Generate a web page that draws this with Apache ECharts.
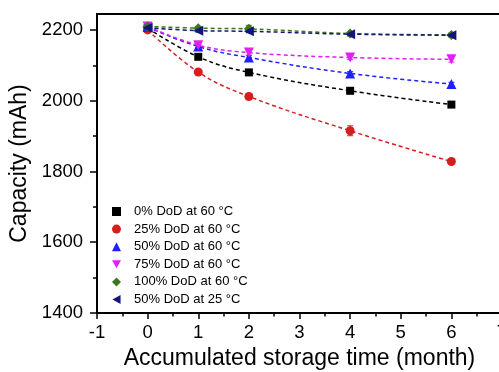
<!DOCTYPE html>
<html>
<head>
<meta charset="utf-8">
<script src="https://cdn.jsdelivr.net/npm/echarts@6/dist/echarts.min.js"></script>
<style>
  html, body { margin: 0; padding: 0; background: #fff; }
  #chart { width: 499px; height: 372px; }
</style>
</head>
<body>
<div id="chart"></div>
<script>
// storage time (month)
const months = [0, 1, 2, 4, 6]

// capacity (mAh) per condition
const dod0At60 = [2205, 2124, 2080, 2028, 1989]
const dod25At60 = [2200, 2081, 2012, 1915, 1828]
const dod50At60 = [2208, 2153, 2122, 2077, 2047]
const dod75At60 = [2210, 2157, 2136, 2122, 2117]
const dod100At60 = [2210, 2205, 2203, 2190, 2186]
const dod50At25 = [2206, 2198, 2196, 2188, 2185]

// error bars (mAh)
const err0At60 = [5, 5, 5, 8, 4]
const err25At60 = [5, 4, 6, 14, 4]
const err50At60 = [5, 5, 5, 5, 5]
const err75At60 = [10, 7, 7, 6, 8]
const err100At60 = [6, 5, 10, 5, 5]
const err50At25 = [5, 4, 4, 5, 5]

const yTicks = [1400, 1600, 1800, 2000, 2200]
const yMinorTicks = [1500, 1700, 1900, 2100]

const font = "'Liberation Sans', Arial, sans-serif"

const downTri = 'path://M0,0L10,0L5,9Z'
const leftTri = 'path://M9,0L9,10L0,5Z'

const conditions = [
  { name: '0% DoD at 60 °C', data: dod0At60, err: err0At60, color: '#000000', symbol: 'rect', size: 8 },
  { name: '25% DoD at 60 °C', data: dod25At60, err: err25At60, color: '#d41f1f', symbol: 'circle', size: 9 },
  { name: '50% DoD at 60 °C', data: dod50At60, err: err50At60, color: '#1f1fff', symbol: 'triangle', size: 10 },
  { name: '75% DoD at 60 °C', data: dod75At60, err: err75At60, color: '#e020f0', symbol: downTri, size: 10 },
  { name: '100% DoD at 60 °C', data: dod100At60, err: err100At60, color: '#3a7a1a', symbol: 'diamond', size: 10 },
  { name: '50% DoD at 25 °C', data: dod50At25, err: err50At25, color: '#14147a', symbol: leftTri, size: 10 },
]

const errorBars = (c, i) => ({
  type: 'custom',
  name: 'err' + i,
  z: 2,
  renderItem: function (params, api) {
    const x = api.value(0)
    const y = api.value(1)
    const e = api.value(2)
    const hi = api.coord([x, y + e])
    const lo = api.coord([x, y - e])
    const style = { stroke: c.color, lineWidth: 1 }
    return {
      type: 'group',
      children: [
        { type: 'line', shape: { x1: hi[0], y1: hi[1], x2: lo[0], y2: lo[1] }, style },
        { type: 'line', shape: { x1: hi[0] - 3, y1: hi[1], x2: hi[0] + 3, y2: hi[1] }, style },
        { type: 'line', shape: { x1: lo[0] - 3, y1: lo[1], x2: lo[0] + 3, y2: lo[1] }, style },
      ],
    }
  },
  data: months.map((m, k) => [m, c.data[k], c.err[k]]),
})

const lines = conditions.map(c => ({
  name: c.name,
  type: 'line',
  smooth: 0.4,
  symbol: c.symbol,
  symbolSize: c.size,
  z: 3,
  itemStyle: { color: c.color },
  lineStyle: { color: c.color, width: 1.5, type: [4, 3] },
  data: months.map((m, k) => [m, c.data[k]]),
}))

const option = {
  animation: false,
  backgroundColor: '#fff',
  textStyle: { fontFamily: font },
  grid: {
    left: 97,
    right: -3,
    top: 14,
    bottom: 59,
    containLabel: false,
    outerBoundsMode: 'none',
    show: true,
    borderColor: '#000',
    borderWidth: 2,
  },
  legend: {
    orient: 'vertical',
    left: 112,
    top: 205,
    padding: 0,
    itemWidth: 9,
    itemHeight: 9,
    itemGap: 4.6,
    textStyle: { fontFamily: font, fontSize: 13, color: '#000', lineHeight: 13, padding: [0, 0, 0, 8] },
    data: conditions.map(c => ({ name: c.name, icon: c.symbol })),
  },
  xAxis: {
    type: 'value',
    min: -1,
    max: 7,
    interval: 1,
    name: 'Accumulated storage time (month)',
    nameLocation: 'middle',
    nameGap: 34,
    nameTextStyle: { fontFamily: font, fontSize: 23, color: '#000' },
    axisLine: { onZero: false, lineStyle: { color: '#000', width: 2 } },
    axisTick: { length: 6, lineStyle: { color: '#000', width: 1.5 } },
    minorTick: { show: true, splitNumber: 2, length: 3.5, lineStyle: { color: '#000', width: 1.5 } },
    axisLabel: { fontFamily: font, fontSize: 18.5, color: '#000', margin: 10 },
    splitLine: { show: false },
  },
  yAxis: [
    {
      type: 'value',
      min: 1400,
      max: 2245,
      interval: 200,
      name: 'Capacity (mAh)',
      nameLocation: 'middle',
      nameGap: 57,
      nameTextStyle: { fontFamily: font, fontSize: 23, color: '#000' },
      axisLine: { show: true, onZero: false, lineStyle: { color: '#000', width: 2 } },
      axisTick: { show: true, customValues: yTicks, length: 7, lineStyle: { color: '#000', width: 1.5 } },
      axisLabel: {
        customValues: yTicks,
        formatter: v => String(v),
        fontFamily: font,
        fontSize: 18.5,
        color: '#000',
        margin: 14,
      },
      splitLine: { show: false },
    },
    {
      type: 'value',
      min: 1400,
      max: 2245,
      position: 'left',
      axisLine: { show: false, onZero: false },
      axisTick: { show: true, customValues: yMinorTicks, length: 4, lineStyle: { color: '#000', width: 1.5 } },
      axisLabel: { show: false },
      splitLine: { show: false },
    },
  ],
  series: [...lines, ...conditions.map(errorBars)],
}

const myChart = echarts.init(document.getElementById('chart'))
myChart.setOption(option)
</script>
</body>
</html>
